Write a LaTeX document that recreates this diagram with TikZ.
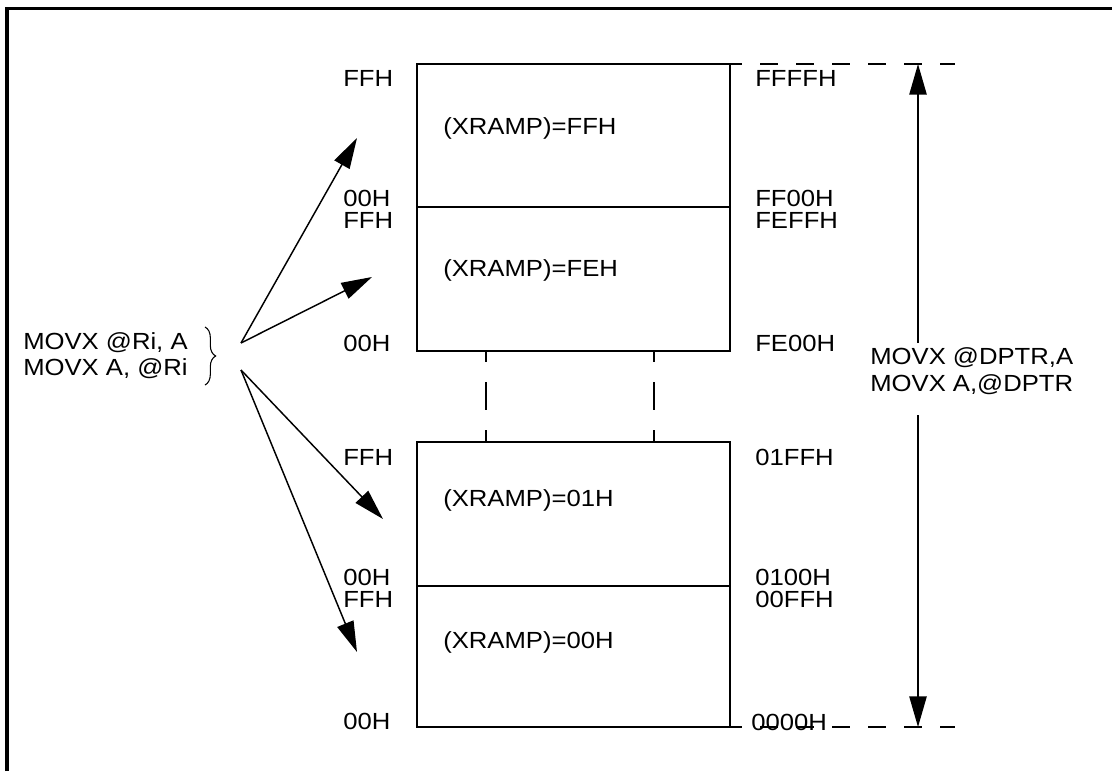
\documentclass[tikz,border=0pt]{standalone}
\usepackage{fontspec}
\setmainfont[FakeStretch=1.1]{Liberation Sans}
\usetikzlibrary{arrows.meta,decorations.pathreplacing}
\begin{document}
\begin{tikzpicture}[x=0.75pt,y=-0.75pt,
  lbl/.style={anchor=base west,inner sep=0pt,font=\fontsize{17.5}{20}\selectfont},
  blk/.style={draw,line width=1.1pt,minimum width=234.75pt,inner sep=0pt},
  arr/.style={line width=1.1pt,-{Triangle[length=23pt,width=13pt]}},
  hdash/.style={line width=1.1pt,dash pattern=on 13.5pt off 13.5pt,dash phase=4.5pt},
  vdash/.style={line width=1.1pt,dash pattern=on 21pt off 15pt,dash phase=12.75pt},
  frame/.style={line width=2.3pt}]
\useasboundingbox (0,0) rectangle (1112,771);
% outer frame
\coordinate (fbl) at (7,771);
\coordinate (ftl) at (7,8.5);
\coordinate (ftr) at (1112,8.5);
\draw[frame] (fbl) -- (ftl) -- (ftr);
% blocks
\node[blk,minimum height=107.25pt] (b3) at (573.5,135.5) {};
\node[blk,minimum height=108pt] (b2) at (573.5,279) {};
\node[blk,minimum height=108pt] (b1) at (573.5,514) {};
\node[blk,minimum height=105.75pt] (b0) at (573.5,656.5) {};
% dashed link between blocks
\coordinate (dl1) at (486,351); \coordinate (dl2) at (486,442);
\coordinate (dr1) at (654,351); \coordinate (dr2) at (654,442);
\draw[vdash] (dl1) -- (dl2);
\draw[vdash] (dr1) -- (dr2);
% inner labels
\node[lbl] (t3) at (443,134) {(XRAMP)=FFH};
\node[lbl] (t2) at (443,276) {(XRAMP)=FEH};
\node[lbl] (t1) at (443,506) {(XRAMP)=01H};
\node[lbl] (t0) at (443,648) {(XRAMP)=00H};
% left offsets
\node[lbl] (l1) at (343,86) {FFH};
\node[lbl] (l2) at (343,206) {00H};
\node[lbl] (l3) at (343,228) {FFH};
\node[lbl] (l4) at (343,351) {00H};
\node[lbl] (l5) at (343,465) {FFH};
\node[lbl] (l6) at (343,585) {00H};
\node[lbl] (l7) at (343,607) {FFH};
\node[lbl] (l8) at (343,729) {00H};
% right addresses
\node[lbl] (r1) at (755,86) {FFFFH};
\node[lbl] (r2) at (755,206) {FF00H};
\node[lbl] (r3) at (755,228) {FEFFH};
\node[lbl] (r4) at (755,351) {FE00H};
\node[lbl] (r5) at (755,465) {01FFH};
\node[lbl] (r6) at (755,585) {0100H};
\node[lbl] (r7) at (755,607) {00FFH};
\node[lbl] (r8) at (751,730) {0000H};
% dashed horizontal extents
\coordinate (ht1) at (730,64); \coordinate (ht2) at (955,64);
\coordinate (hb1) at (730,727); \coordinate (hb2) at (955,727);
\draw[hdash] (ht1) -- (ht2);
\draw[hdash] (hb1) -- (hb2);
% right arrow with label
\node[lbl] (dp1) at (870,364) {MOVX @DPTR,A};
\node[lbl] (dp2) at (870,391) {MOVX A,@DPTR};
\coordinate (va) at (918,343); \coordinate (vt) at (918,64);
\coordinate (vb) at (918,415); \coordinate (vbt) at (918,727);
\draw[arr] (va) -- (vt);
\draw[arr] (vb) -- (vbt);
% left labels and brace
\node[lbl] (m1) at (23,349) {MOVX @Ri, A};
\node[lbl] (m2) at (23,375) {MOVX A, @Ri};
\coordinate (br1) at (205,327); \coordinate (br2) at (205,385);
\draw[line width=0.8pt,decorate,decoration={brace,amplitude=8pt}] (br1) -- (br2);
% left arrows
\coordinate (s1) at (241,343); \coordinate (s2) at (241,370);
\coordinate (a1) at (357,138); \coordinate (a2) at (372,277);
\coordinate (a3) at (383,519); \coordinate (a4) at (357,652);
\draw[arr] (s1) -- (a1);
\draw[arr] (s1) -- (a2);
\draw[arr] (s2) -- (a3);
\draw[arr] (s2) -- (a4);
\end{tikzpicture}
\end{document}
